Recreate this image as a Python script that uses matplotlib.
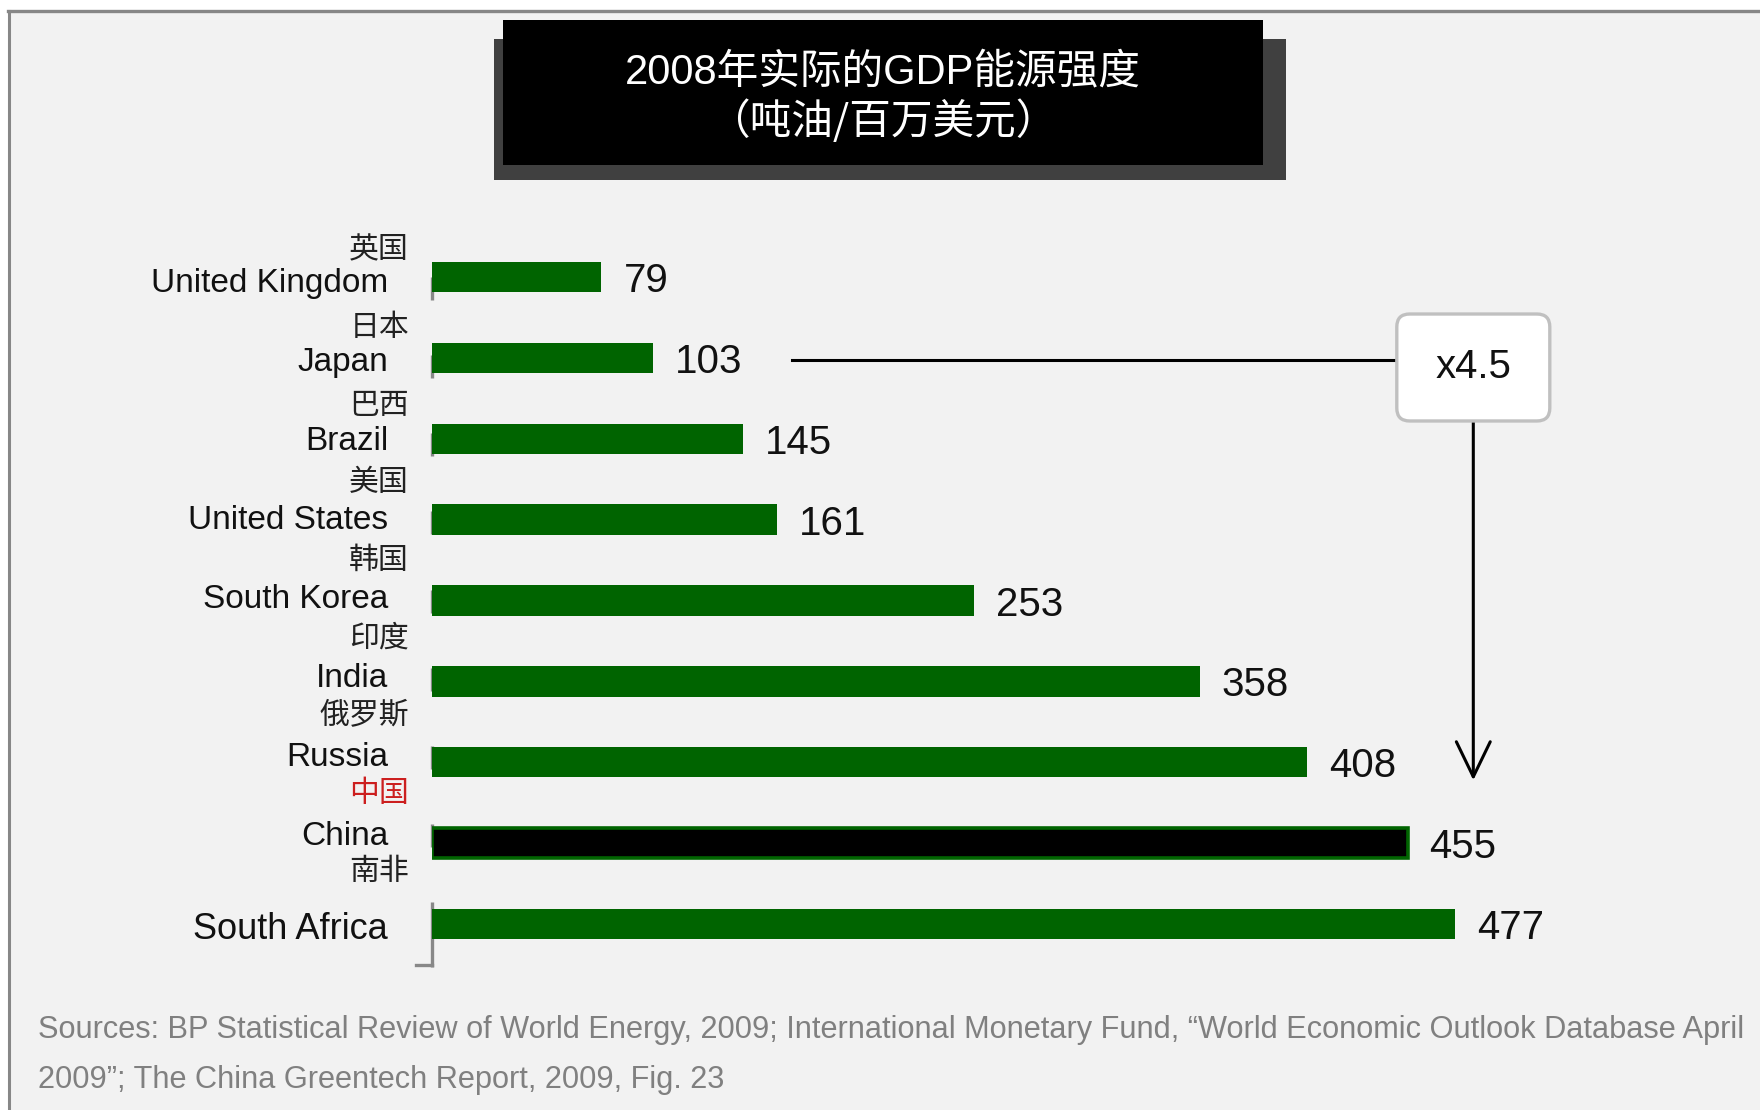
import matplotlib
matplotlib.use("Agg")
import matplotlib.pyplot as plt
from matplotlib.patches import Rectangle, FancyBboxPatch
from matplotlib.lines import Line2D

# Data
countries_cn = ["英国", "日本", "巴西", "美国", "韩国", "印度", "俄罗斯", "中国", "南非"]
countries_en = ["United Kingdom", "Japan", "Brazil", "United States", "South Korea",
                "India", "Russia", "China", "South Africa"]
intensity = [79, 103, 145, 161, 253, 358, 408, 455, 477]
highlight = "China"
ratio_label = "x4.5"
title_lines = ["2008年实际的GDP能源强度", "（吨油/百万美元）"]
source_lines = [
    "Sources: BP Statistical Review of World Energy, 2009; International Monetary Fund, "
    "\u201cWorld Economic Outlook Database April",
    "2009\u201d; The China Greentech Report, 2009, Fig. 23",
]

# Fonts
latin = ["Liberation Sans", "DejaVu Sans"]
cjk = ["Noto Sans CJK SC", "DejaVu Sans"]
title_font = ["Liberation Sans", "Noto Sans CJK SC"]

W, H = 1760, 1110
fig = plt.figure(figsize=(W / 100, H / 100), dpi=100, facecolor="white")

# Grey panel with top / left border
fig.add_artist(Rectangle((9 / W, 0), 1 - 9 / W, 1 - 11 / H, transform=fig.transFigure,
                         facecolor="#f2f2f2", edgecolor="none", zorder=0))
fig.add_artist(Line2D([8 / W, 1], [1 - 11 / H] * 2, transform=fig.transFigure,
                      color="#878787", lw=2.4))
fig.add_artist(Line2D([8.5 / W] * 2, [0, 1 - 11 / H], transform=fig.transFigure,
                      color="#878787", lw=2.2))

# Title block
fig.add_artist(Rectangle((494 / W, 1 - 180 / H), (1286 - 494) / W, (180 - 39) / H,
                         transform=fig.transFigure, facecolor="#404040", edgecolor="none"))
fig.add_artist(Rectangle((503 / W, 1 - 165 / H), (1263 - 503) / W, (165 - 20) / H,
                         transform=fig.transFigure, facecolor="black", edgecolor="none"))
fig.text(883 / W, 1 - 72 / H, title_lines[0], color="white", fontsize=30,
         family=title_font, ha="center", va="center")
fig.text(883 / W, 1 - 121 / H, title_lines[1], color="white", fontsize=30,
         family=cjk, ha="center", va="center")

# Bar chart
row_px = 80.9   # pixels per category
unit_px = 2.144  # pixels per data unit
ax = fig.add_axes([432 / W, (H - 967) / H, 1286 / W, (967 - 228.5) / H])
ax.set_facecolor("none")
ymax = len(intensity) - 1 + 43 / row_px
ax.set_ylim(ymax, -0.6)
ax.set_xlim(0, 1286 / unit_px)
for s in ax.spines.values():
    s.set_visible(False)
ax.set_xticks([])
ax.set_yticks([])

ypos = list(range(len(intensity)))
faces = ["black" if c == highlight else "#006400" for c in countries_en]
widths = [2.6 if c == highlight else 0 for c in countries_en]
ax.barh(ypos, intensity, height=0.375, color=faces, edgecolor="#006400",
        linewidth=widths, zorder=3)

# value labels
for y, v in zip(ypos, intensity):
    ax.text(v + 22 / unit_px, y + 4 / row_px, str(v), fontsize=29, family=latin,
            ha="left", va="center", color="#111111")

# category labels and the broken left axis line
last = len(intensity) - 1
for i, (cn, en) in enumerate(zip(countries_cn, countries_en)):
    top = i - 2.75 * i / row_px
    bot = ymax if i == last else top + 23 / row_px
    ax.vlines(0, top, bot, color="#888888", lw=2.4, clip_on=False, zorder=2)

    base = 15 if i == last else 15 - 1.9 * i
    ax.text(-44 / unit_px, i + base / row_px, en, fontsize=26 if i == last else 24,
            family=latin, ha="right", va="baseline", color="#111111")
    ax.text(-23 / unit_px, i + (-27 - 3.25 * i) / row_px, cn, fontsize=21.5, family=cjk,
            ha="right", va="center", color="#cc1f1f" if en == highlight else "#222222")

ax.plot([-16 / unit_px, 0], [ymax - 2 / row_px] * 2, color="#888888", lw=2.4,
        clip_on=False)

# x4.5 callout
box_x, box_w = 450, 153 / unit_px
box_y, box_h = 37 / row_px, 107 / row_px
cx = box_x + box_w / 2
ax.plot([168, box_x], [1 + 2 / row_px] * 2, color="black", lw=2.2, zorder=4)
ax.add_patch(FancyBboxPatch((box_x, box_y), box_w, box_h,
                            boxstyle="round,pad=0,rounding_size=6",
                            mutation_aspect=unit_px / row_px,
                            facecolor="white", edgecolor="#c0c0c0", lw=2.4, zorder=5))
ax.text(cx, box_y + box_h / 2, ratio_label, fontsize=29, family=latin,
        ha="center", va="center", zorder=6, color="#111111")
ax.annotate("", xy=(cx, 6 + 18 / row_px), xytext=(cx, box_y + box_h),
            arrowprops=dict(arrowstyle="->,head_length=1.26,head_width=0.61",
                            color="black", lw=2.2, shrinkA=0, shrinkB=0,
                            mutation_scale=20))

# Sources, size fitted to the width of the first line
src1 = fig.text(38 / W, 1 - 1030 / H, source_lines[0], fontsize=22, family=latin,
                color="#808080", va="center", ha="left")
src2 = fig.text(38 / W, 1 - 1080 / H, source_lines[1], fontsize=22, family=latin,
                color="#808080", va="center", ha="left")
renderer = fig.canvas.get_renderer()
w1 = src1.get_window_extent(renderer).width
size = 22 * 1700 / w1
src1.set_fontsize(size)
src2.set_fontsize(size)

fig.savefig("out.png", dpi=100, facecolor="white")
